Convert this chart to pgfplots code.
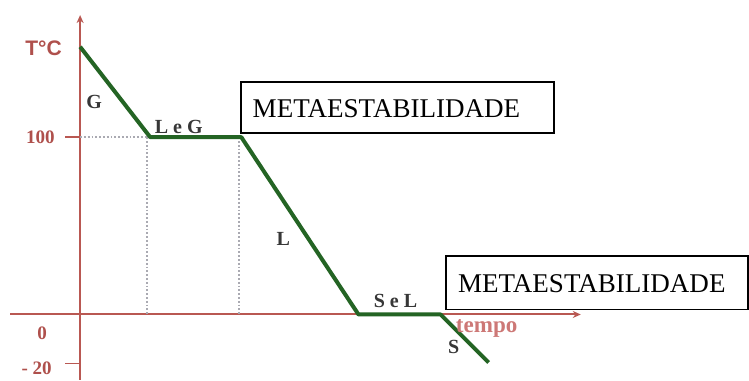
\documentclass[border=0pt]{standalone}
\usepackage{fontspec}
\setmainfont{Liberation Serif}
\newfontfamily\sansfont{Liberation Sans}
\usepackage{pgfplots}
\pgfplotsset{compat=1.18}
\usetikzlibrary{arrows.meta}
\definecolor{axred}{RGB}{185,88,82}
\definecolor{lblred}{RGB}{175,80,76}
\definecolor{tmp}{RGB}{205,120,118}
\definecolor{grn}{RGB}{36,100,36}
\definecolor{dg}{RGB}{55,55,55}
\definecolor{dotg}{RGB}{170,170,178}
\begin{document}
\begin{tikzpicture}
\begin{axis}[
  scale only axis, width=285pt, height=182pt,
  xmin=-7, xmax=50, ymin=-36.7, ymax=168.9,
  axis lines=middle, clip=false,
  axis line style={axred, line width=1pt},
  every inner x axis line/.append style={-{Stealth[length=4pt,width=3.5pt]}},
  every inner y axis line/.append style={-{Stealth[length=4pt,width=3.5pt]}},
  xtick=\empty,
  ytick={-27.7,100}, yticklabels={,},
  tick align=outside, major tick length=7.5pt,
  y tick style={axred, line width=0.8pt},
]
\path (axis cs:-8,177.4) rectangle (axis cs:66.8,-36.7);
% dotted guide lines
\addplot[dotg, densely dotted, line width=0.9pt] coordinates {(0,100) (7,100)};
\addplot[dotg, densely dotted, line width=0.9pt] coordinates {(6.7,100) (6.7,0)};
\addplot[dotg, densely dotted, line width=0.9pt] coordinates {(15.9,100) (15.9,0)};
% cooling curve
\addplot[grn, line width=2pt, line join=round] coordinates {(0,151) (7,100) (16.1,100) (27.8,0) (36,0) (40.8,-27.1)};
% boxes
\draw[black, line width=0.9pt, fill=white] (axis cs:16.1,131.1) rectangle (axis cs:47.3,102.3);
\node[anchor=base west, inner sep=0, font=\fontsize{13.5}{15}\selectfont] at (axis cs:17.2,111.3) {METAESTABILIDADE};
\draw[black, line width=0.9pt, fill=white] (axis cs:36.5,32.8) rectangle (axis cs:66.7,2.8);
\node[anchor=base west, inner sep=0, font=\fontsize{13.5}{15}\selectfont] at (axis cs:37.7,12.6) {METAESTABILIDADE};
% phase labels
\node[dg, font=\bfseries\fontsize{10}{12}\selectfont] at (axis cs:1.4,120) {G};
\node[dg, font=\bfseries\fontsize{10}{12}\selectfont] at (axis cs:9.85,105.6) {L e G};
\node[dg, font=\bfseries\fontsize{10}{12}\selectfont] at (axis cs:20.3,42.7) {L};
\node[dg, font=\bfseries\fontsize{10}{12}\selectfont] at (axis cs:31.5,7.9) {S e L};
\node[dg, font=\bfseries\fontsize{10}{12}\selectfont] at (axis cs:37.3,-18.6) {S};
\node[tmp, font=\bfseries\fontsize{11.5}{13}\selectfont] at (axis cs:40.6,-7.9) {tempo};
% axis labels
\node[lblred, font=\sansfont\bfseries\fontsize{10.5}{12}\selectfont] at (axis cs:-3.65,150.3) {T°C};
\node[lblred, anchor=east, inner sep=0, font=\bfseries\fontsize{9.5}{11}\selectfont] at (axis cs:-2.5,100) {100};
\node[lblred, inner sep=0, font=\bfseries\fontsize{9.5}{11}\selectfont] at (axis cs:-3.8,-10.7) {0};
\node[lblred, anchor=east, inner sep=0, font=\bfseries\fontsize{9.5}{11}\selectfont] at (axis cs:-2.8,-30.5) {- 20};
\end{axis}
\end{tikzpicture}
\end{document}
